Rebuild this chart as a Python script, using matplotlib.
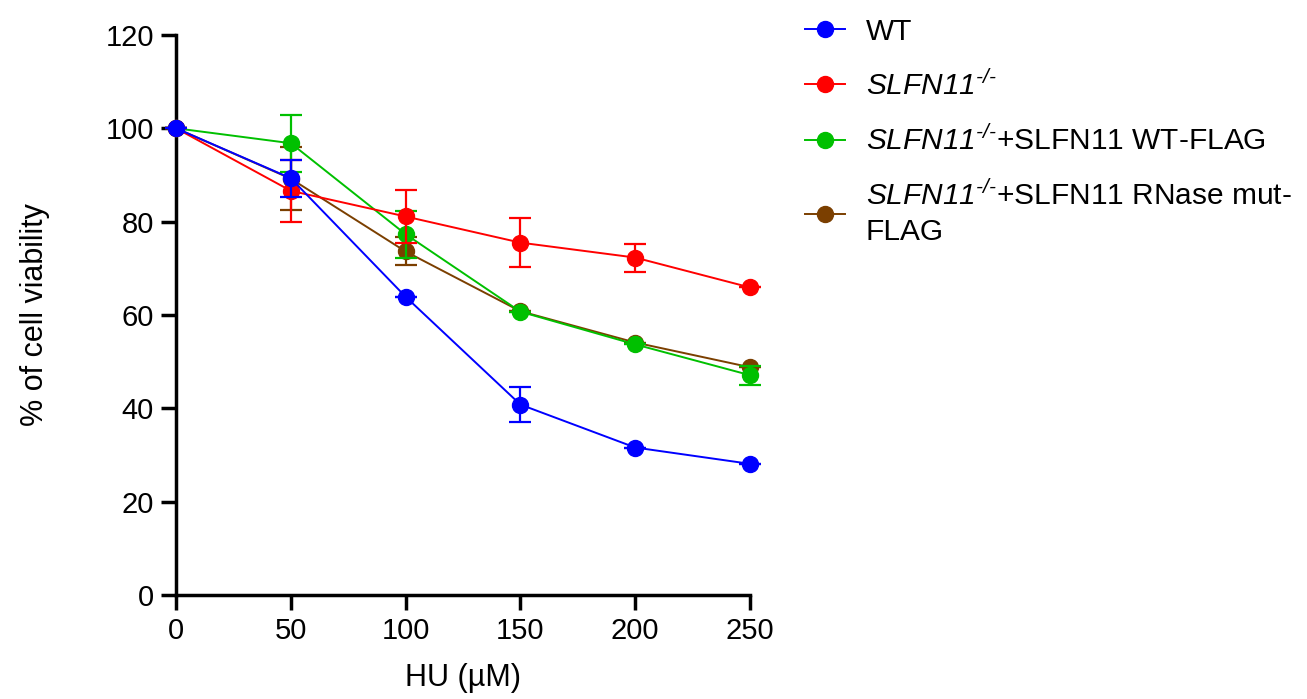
import numpy as np
import matplotlib
matplotlib.use("Agg")
import matplotlib.pyplot as plt

plt.rcParams['font.family'] = ['Liberation Sans', 'DejaVu Sans']
plt.rcParams['mathtext.fontset'] = 'custom'
plt.rcParams['mathtext.rm'] = 'Liberation Sans:italic'
plt.rcParams['mathtext.it'] = 'Liberation Sans:italic'

# data
hu = [0, 50, 100, 150, 200, 250]

wt = [100, 89.3, 63.9, 40.8, 31.6, 28.1]
wt_err = [0, 4.0, 0, 3.8, 0, 0]

ko = [100, 86.6, 81.1, 75.5, 72.3, 65.9]
ko_err = [0, 6.6, 5.6, 5.3, 3.0, 0]

ko_wt = [100, 96.8, 77.3, 60.7, 53.7, 47.1]
ko_wt_err = [0, 6.1, 5.0, 0, 0, 2.0]

ko_mut = [100, 89.2, 73.6, 60.8, 54.1, 48.8]
ko_mut_err = [0, 6.7, 3.0, 0, 0, 0]

ko_tex = r'$\mathrm{SLFN11}^{\text{-/-}}$'
labels = [
    'WT',
    ko_tex,
    ko_tex + '+SLFN11 WT-FLAG',
    ko_tex + '+SLFN11 RNase mut-\nFLAG',
]
colors = ['#0000ff', '#ff0000', '#00c000', '#7b3f00']

fig = plt.figure(figsize=(13.07, 6.99), dpi=100)
ax = fig.add_axes([0.1347, 0.1488, 0.4391, 0.8012])

series = [(wt, wt_err), (ko, ko_err), (ko_wt, ko_wt_err), (ko_mut, ko_mut_err)]
handles = [None] * 4
# draw brown first, blue last so blue sits on top
for i in [3, 2, 1, 0]:
    y, e = series[i]
    h = ax.errorbar(hu, y, yerr=e, color=colors[i], marker='o', markersize=11.5,
                    linewidth=1.4, elinewidth=1.6, capsize=8, capthick=1.6,
                    clip_on=False, zorder=3 + (3 - i) * 0.5)
    h.lines[0].set_zorder(3.3 + (3 - i) * 0.5)
    for cl in h.lines[1]:
        cl.set_zorder(3.1 + (3 - i) * 0.5)
    h.lines[2][0].set_zorder(3.1 + (3 - i) * 0.5)
    handles[i] = h.lines[0]

ax.set_xlim(0, 250)
ax.set_ylim(0, 120)
ax.set_xticks([0, 50, 100, 150, 200, 250])
ax.set_yticks([0, 20, 40, 60, 80, 100, 120])
ax.spines['top'].set_visible(False)
ax.spines['right'].set_visible(False)
for s in ['left', 'bottom']:
    ax.spines[s].set_linewidth(2.5)
ax.tick_params(width=2.5, length=11, labelsize=21, pad=5)
ax.set_xlabel('HU (µM)', fontsize=22, labelpad=13)
ax.set_ylabel('% of cell viability', fontsize=22, labelpad=40)

leg = fig.legend(handles=handles, labels=labels,
                 loc='upper left', bbox_to_anchor=(0.595, 1.013),
                 frameon=False, fontsize=21.5, handlelength=1.35,
                 handletextpad=0.7, labelspacing=0.82)
for t in leg.get_texts():
    t.set_linespacing(1.3)

fig.savefig('out.png', dpi=100)
